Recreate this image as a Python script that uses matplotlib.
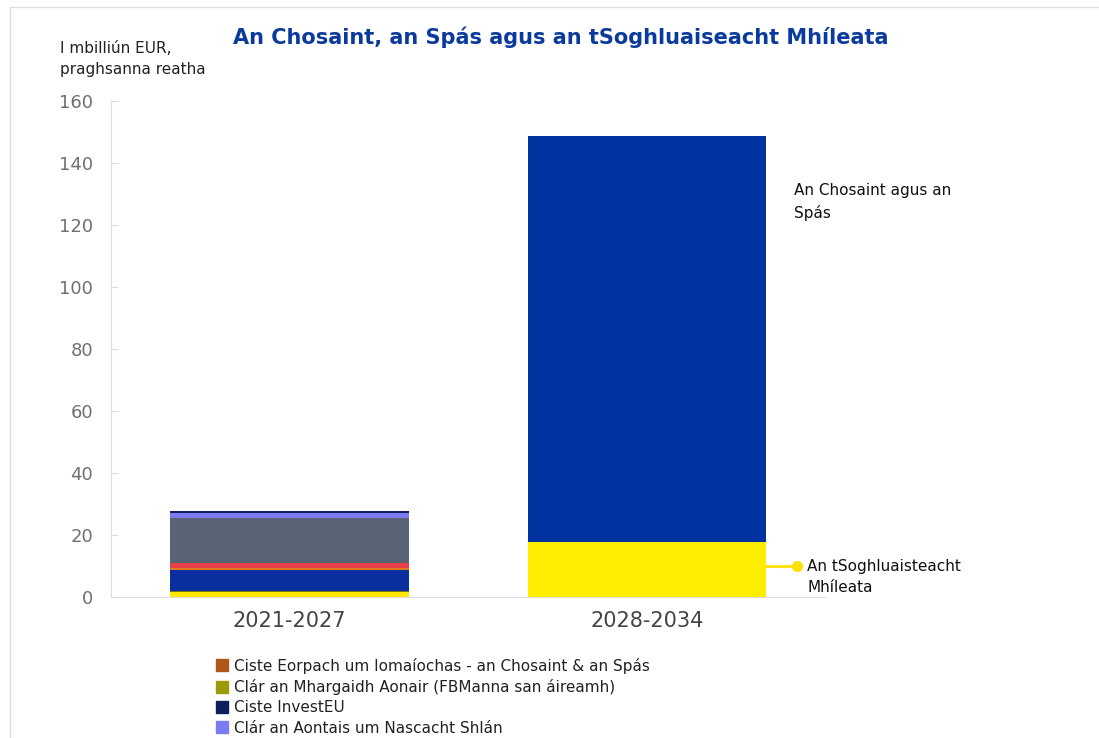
import matplotlib.pyplot as plt
from matplotlib.lines import Line2D
from matplotlib.patches import Rectangle

# data (EUR bn, current prices)
periods = ["2021-2027", "2028-2034"]

# 2021-2027 bar, bottom -> top
old_names = ["Soghluaisteacht Mhíleata", "Clár an Mhargaidh Aonair (FBManna san áireamh)",
             "Ciste Eorpach um Chosaint", "Ciste Eorpach um Iomaíochas - an Chosaint & an Spás",
             "Eile", "Clár Spáis", "Clár an Aontais um Nascacht Shlán", "Ciste InvestEU"]
old_values = [1.7, 0.3, 6.7, 0.75, 1.6, 14.6, 1.6, 0.5]
old_colors = ["#FFE800", "#7A7A10", "#0B2F9E", "#E07A1F", "#E8404A", "#5A6276", "#7B7BF2", "#0E1F5E"]

# 2028-2034 bar
new_mobility = 17.65
new_defence = 131.0

legend_labels = ["Ciste Eorpach um Iomaíochas - an Chosaint & an Spás",
                 "Clár an Mhargaidh Aonair (FBManna san áireamh)",
                 "Ciste InvestEU",
                 "Clár an Aontais um Nascacht Shlán"]
legend_colors = ["#B0561A", "#9A9A0A", "#0E1F5E", "#7B7BF2"]

fig = plt.figure(figsize=(10.99, 7.38), dpi=100)
ax = fig.add_axes([0.101, 0.191, 0.650, 0.672])

bw = 0.667
bottom = 0.0
for v, c in zip(old_values, old_colors):
    ax.bar(0, v, bottom=bottom, width=bw, color=c, linewidth=0)
    bottom += v

ax.bar(1, new_mobility, width=bw, color="#FFED00", linewidth=0)
ax.bar(1, new_defence, bottom=new_mobility, width=bw, color="#0033A0", linewidth=0)

ax.set_xlim(-0.5, 1.5)
ax.set_ylim(0, 160)
ax.set_yticks(range(0, 161, 20))
ax.set_xticks([0, 1])
ax.set_xticklabels(periods, fontsize=15, color="#444444")
ax.tick_params(axis="y", direction="in", length=5, color="#DDDDDD", labelsize=13,
               labelcolor="#707070", pad=13)
ax.tick_params(axis="x", length=0, pad=10)
for s in ["top", "right"]:
    ax.spines[s].set_visible(False)
ax.spines["left"].set_color("#DDDDDD")
ax.spines["bottom"].set_color("#DDDDDD")

# labels on the right
ax.text(1.413, 127.5, "An Chosaint agus an\nSpás", fontsize=11, color="#111111",
        va="center", ha="left", linespacing=1.5)
ax.plot([1 + bw / 2, 1.42], [10, 10], color="#FFE000", lw=2, clip_on=False)
ax.plot([1.42], [10], "o", color="#FFE000", ms=7, clip_on=False)
ax.text(1.45, 6.5, "An tSoghluaisteacht\nMhíleata", fontsize=11, color="#111111",
        va="center", ha="left", linespacing=1.5)

fig.text(0.510, 0.950, "An Chosaint, an Spás agus an tSoghluaiseacht Mhíleata",
         fontsize=15, fontweight="bold", color="#0A3A9E", ha="center", va="center")
fig.text(0.055, 0.920, "I mbilliún EUR,\npraghsanna reatha", fontsize=11,
         color="#222222", ha="left", va="center", linespacing=1.45)

handles = [Line2D([0], [0], marker="s", ls="none", color=c, ms=8) for c in legend_colors]
fig.legend(handles, legend_labels, loc="upper left", bbox_to_anchor=(0.192, 0.117),
           frameon=False, fontsize=11, handlelength=0.6, handletextpad=0.5,
           labelspacing=0.35, borderaxespad=0, labelcolor="#222222")

# light frame around the picture
fig.patches.append(Rectangle((0.009, -0.1), 1.2, 1.091, transform=fig.transFigure,
                             fill=False, edgecolor="#DDDDDD", lw=1))

fig.savefig("out.png", dpi=100)
